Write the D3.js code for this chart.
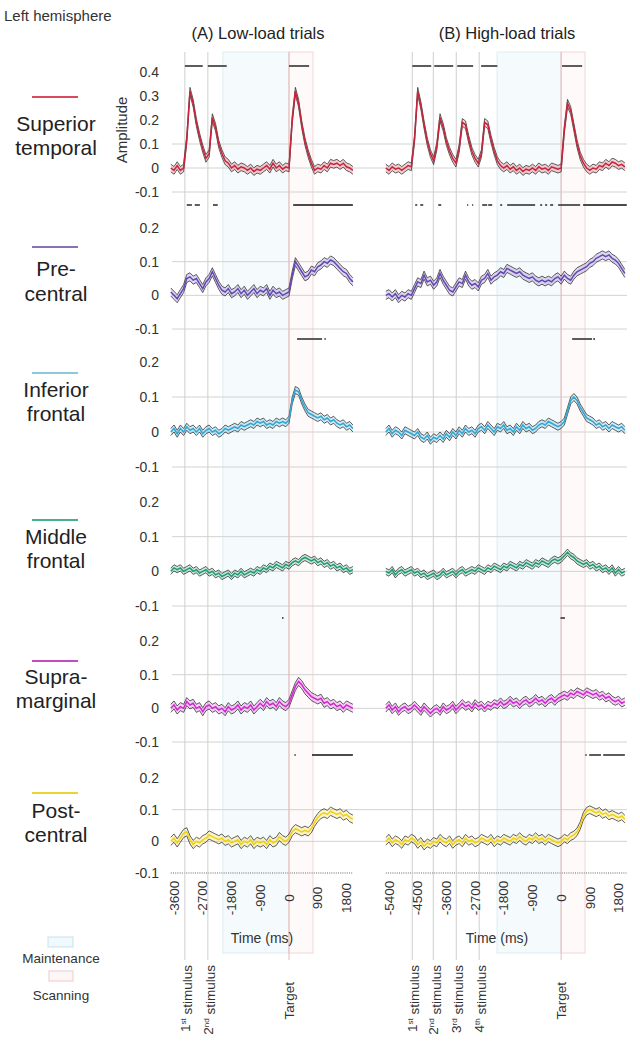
<!DOCTYPE html>
<html><head><meta charset="utf-8">
<script src="https://cdn.jsdelivr.net/npm/d3@7"></script>
<style>body{margin:0;background:#fff;} svg{display:block;font-family:"Liberation Sans",Arial,sans-serif;}</style>
</head><body><svg id="c" width="640" height="1050"></svg>
<script>
// ---------- data ----------
const regionNames = [["Superior","temporal"],["Pre-","central"],["Inferior","frontal"],["Middle","frontal"],["Supra-","marginal"],["Post-","central"]];
const regionColors = ["#c8243a","#6446b4","#30a6d4","#1d9a6e","#d028d0","#f0d010"];
const regionKeyColors = ["#d94a5c","#8b70b3","#8cc8da","#45b08e","#c24cc4","#e6d634"];
const yTicksTop = [0.4,0.3,0.2,0.1,0,-0.1];
const yTicksRow = [0.2,0.1,0,-0.1];
const gridVals = [0.1,0,-0.1];
const xTicksA = [-3600,-2700,-1800,-900,0,900,1800];
const xTicksB = [-5400,-4500,-3600,-2700,-1800,-900,0,900,1800];
const stimA = [-3260,-2540];
const stimB = [-4670,-4010,-3290,-2570];
const stimOrd = ["st","nd","rd","th"];
const maintA = [-2070,0], maintB = [-2010,0];
const scanA = [0,750], scanB = [0,750];
const seA = [0.016,0.012,0.01,0.009,0.012,0.013];
const seB = [0.016,0.012,0.01,0.009,0.011,0.012];

const supTempA = [0.00,-0.01,0.01,-0.01,0.00,0.12,0.32,0.27,0.19,0.13,
 0.08,0.04,0.06,0.21,0.17,0.10,0.06,0.03,0.02,0.00,
 0.01,-0.005,0.005,0.00,-0.01,0.00,-0.015,-0.005,-0.01,0.00,
 0.01,-0.005,0.02,0.00,0.01,-0.005,0.005,0.00,0.20,0.32,
 0.27,0.18,0.11,0.06,0.02,-0.01,0.00,-0.005,0.01,0.00,
 0.02,0.015,0.02,0.01,0.02,0.005,0.00,-0.01];
const supTempB = [0.00,-0.01,0.005,-0.005,0.00,-0.01,0.00,0.01,0.005,0.12,
 0.32,0.26,0.18,0.11,0.06,0.03,0.09,0.21,0.17,0.11,
 0.07,0.04,0.02,0.08,0.19,0.18,0.12,0.07,0.04,0.02,
 0.06,0.19,0.18,0.12,0.07,0.03,0.01,0.00,0.01,-0.005,
 0.005,-0.01,0.00,-0.015,-0.005,-0.01,0.00,-0.01,0.005,-0.005,
 0.00,-0.01,0.005,0.00,-0.005,0.00,0.16,0.27,0.24,0.17,
 0.10,0.05,0.02,0.00,-0.01,0.00,-0.005,0.01,0.005,0.02,
 0.01,0.025,0.02,0.01,0.015,0.005];
const preCentA = [0.01,0.00,-0.01,0.005,0.02,0.05,0.055,0.045,0.05,0.035,
 0.02,0.04,0.05,0.07,0.05,0.03,0.015,0.01,0.02,0.005,
 0.01,0.02,0.005,0.015,0.00,0.01,0.02,0.005,0.015,0.01,
 0.02,0.00,0.015,0.005,0.01,0.00,0.005,0.01,0.06,0.10,
 0.085,0.07,0.055,0.06,0.075,0.07,0.085,0.09,0.10,0.095,
 0.105,0.10,0.09,0.08,0.07,0.065,0.05,0.04];
const preCentB = [0.00,0.005,-0.005,0.005,-0.01,0.00,-0.005,0.005,0.00,0.02,
 0.04,0.035,0.06,0.04,0.045,0.03,0.04,0.065,0.045,0.03,
 0.015,0.01,0.025,0.04,0.035,0.06,0.04,0.03,0.035,0.025,
 0.045,0.05,0.065,0.045,0.055,0.06,0.07,0.065,0.08,0.075,
 0.07,0.065,0.07,0.06,0.055,0.05,0.055,0.045,0.04,0.045,
 0.04,0.045,0.04,0.05,0.055,0.045,0.06,0.05,0.045,0.06,
 0.07,0.075,0.08,0.085,0.095,0.10,0.11,0.115,0.12,0.115,
 0.12,0.11,0.105,0.095,0.08,0.065];
const infFrontA = [0.00,0.01,-0.005,0.01,0.00,0.015,0.005,0.01,0.00,0.01,
 -0.005,0.005,0.01,0.00,0.005,-0.005,0.00,0.01,0.005,0.01,
 0.015,0.01,0.02,0.015,0.02,0.025,0.02,0.03,0.025,0.03,
 0.02,0.025,0.02,0.03,0.025,0.03,0.025,0.035,0.09,0.12,
 0.115,0.09,0.07,0.055,0.05,0.045,0.04,0.045,0.035,0.04,
 0.03,0.035,0.025,0.02,0.025,0.015,0.02,0.01];
const infFrontB = [0.00,0.01,-0.005,0.005,0.00,-0.01,0.005,0.00,-0.005,-0.01,
 0.00,-0.015,-0.02,-0.01,-0.025,-0.015,-0.02,-0.01,-0.02,-0.005,
 -0.015,0.00,-0.01,0.005,-0.005,0.01,0.00,0.005,-0.005,0.01,
 0.015,0.005,0.02,0.01,0.00,0.015,0.01,0.02,0.005,0.01,
 0.00,0.015,0.005,0.02,0.01,0.015,0.005,0.01,0.02,0.025,
 0.02,0.03,0.025,0.02,0.015,0.02,0.03,0.06,0.09,0.10,
 0.09,0.07,0.055,0.04,0.035,0.03,0.02,0.025,0.015,0.02,
 0.01,0.02,0.015,0.01,0.015,0.005];
const midFrontA = [0.00,0.01,0.005,0.01,0.00,0.005,0.01,0.00,0.005,-0.005,
 0.00,0.005,-0.005,0.00,-0.01,-0.005,-0.015,-0.01,-0.005,-0.015,
 -0.005,-0.01,0.00,-0.01,-0.005,0.00,-0.005,0.005,0.00,0.01,
 0.005,0.015,0.01,0.02,0.015,0.01,0.02,0.015,0.025,0.03,
 0.025,0.035,0.04,0.035,0.03,0.035,0.025,0.03,0.02,0.025,
 0.015,0.02,0.01,0.015,0.005,0.01,0.00,0.005];
const midFrontB = [0.00,-0.005,0.005,-0.01,0.00,0.005,-0.005,0.00,0.005,-0.005,
 0.00,-0.01,-0.005,-0.015,-0.01,-0.005,-0.015,-0.01,0.00,-0.01,
 -0.005,0.00,-0.01,0.00,0.005,-0.005,0.00,0.005,0.00,0.01,
 0.005,0.00,0.01,0.005,0.015,0.01,0.005,0.015,0.01,0.02,
 0.015,0.01,0.02,0.015,0.025,0.02,0.015,0.025,0.02,0.03,
 0.025,0.02,0.03,0.035,0.03,0.035,0.045,0.055,0.045,0.04,
 0.03,0.025,0.02,0.025,0.015,0.02,0.01,0.015,0.005,0.01,
 0.00,0.01,-0.005,0.005,-0.005,0.00];
const supraMargA = [0.00,0.01,-0.005,0.005,0.00,0.02,0.01,0.015,0.00,0.005,
 -0.01,0.005,0.01,0.00,0.005,-0.005,0.00,-0.01,0.005,-0.005,
 0.00,0.01,-0.005,0.005,0.00,0.01,-0.005,0.005,0.015,0.005,
 0.02,0.01,0.015,0.005,0.02,0.01,0.005,0.015,0.04,0.065,
 0.08,0.07,0.055,0.045,0.035,0.03,0.025,0.03,0.015,0.02,
 0.01,0.015,0.005,0.01,0.00,0.01,0.005,0.00];
const supraMargB = [0.00,0.01,-0.005,0.005,-0.01,0.00,0.005,-0.005,0.00,0.01,
 0.00,-0.01,0.005,-0.005,-0.015,-0.005,0.00,-0.01,0.005,-0.005,
 0.00,0.01,-0.005,0.005,0.015,0.005,0.01,0.00,0.015,0.005,
 0.01,0.00,0.01,0.005,0.015,0.01,0.02,0.01,0.015,0.025,
 0.015,0.02,0.01,0.02,0.025,0.015,0.02,0.03,0.02,0.025,
 0.015,0.025,0.03,0.02,0.03,0.035,0.04,0.035,0.045,0.04,
 0.05,0.045,0.04,0.05,0.045,0.04,0.045,0.035,0.04,0.03,
 0.035,0.025,0.02,0.025,0.015,0.02];
const postCentA = [0.00,0.01,-0.005,0.01,0.025,0.03,0.005,-0.01,0.00,-0.005,
 0.005,0.01,0.02,0.015,0.01,0.005,0.01,0.00,0.005,-0.005,
 0.00,0.005,-0.01,0.00,-0.005,0.005,-0.01,0.00,-0.005,0.00,
 -0.01,0.005,-0.005,0.00,0.015,0.005,0.00,0.01,0.03,0.04,
 0.035,0.03,0.035,0.03,0.04,0.06,0.075,0.085,0.09,0.085,
 0.095,0.09,0.085,0.09,0.08,0.085,0.075,0.07];
const postCentB = [0.00,0.01,-0.005,0.005,0.00,-0.01,0.005,0.00,0.01,0.005,
 -0.01,0.00,-0.015,-0.005,-0.01,0.00,-0.005,0.01,0.00,-0.005,
 0.005,-0.01,0.00,0.005,-0.005,0.01,0.00,0.005,-0.005,0.00,
 0.01,0.005,0.00,0.01,-0.005,0.005,0.00,0.01,0.005,0.00,
 0.01,0.005,0.015,0.005,0.00,0.01,0.005,0.015,0.005,0.01,
 0.00,0.01,0.005,0.00,-0.005,0.00,0.01,0.005,0.015,0.02,
 0.03,0.05,0.08,0.095,0.10,0.095,0.09,0.095,0.085,0.09,
 0.08,0.085,0.08,0.075,0.08,0.07];

const seriesA = [supTempA, preCentA, infFrontA, midFrontA, supraMargA, postCentA];
const seriesB = [supTempB, preCentB, infFrontB, midFrontB, supraMargB, postCentB];

// significance segments [start, end] in ms
const sigA = [
 [[-3260,-2700],[-2540,-1950],[0,630]],
 [[-3200,-3040],[-2950,-2790],[-2380,-2230],[130,2000]],
 [[250,1035],[1110,1150]],
 [],
 [[-220,-170]],
 [[170,210],[720,2000]]
];
const sigB = [
 [[-4670,-4075],[-3980,-3385],[-3260,-2760],[-2510,-2000],[30,660]],
 [[-4577,-4514],[-4420,-4326],[-3856,-3762],[-2947,-2915],[-2790,-2759],[-2476,-2320],[-2288,-2163],[-1912,-1850],[-1693,-815],[-658,-596],[-502,-439],[-345,-251],[-94,596],[690,2060]],
 [[345,970],[1010,1060]],
 [],
 [[-20,120]],
 [[760,800],[880,1250],[1320,2000]]
];

// ---------- layout ----------
const svg = d3.select("#c");
const tA = d3.range(-3700, 2001, 100);
const tB = d3.range(-5500, 2001, 100);
const xA = d3.scaleLinear().domain([-3600,1800]).range([174,346.5]);
const xB = d3.scaleLinear().domain([-5400,1800]).range([389,618.5]);
const rowDomains = [[-0.1,0.4],[-0.1,0.2],[-0.1,0.2],[-0.1,0.2],[-0.1,0.2],[-0.1,0.2]];
const rowRanges = [[192,72],[329,228],[467,362],[606,502],[742,641],[873,778]];
const yS = rowDomains.map((d,i)=>d3.scaleLinear().domain(d).range(rowRanges[i]));
const regTop = 52, regBot = 953;
const textCol = "#333";

// regions
function region(x, span, fill, stroke){
  svg.append("rect").attr("x", x(span[0])).attr("y", regTop)
    .attr("width", x(span[1]) - x(span[0])).attr("height", regBot - regTop)
    .attr("fill", fill).attr("stroke", stroke).attr("stroke-width", 1);
}
region(xA, maintA, "#f5fafc", "#dcedf3");
region(xB, maintB, "#f5fafc", "#dcedf3");
region(xA, scanA, "#fefafa", "#f3d6d6");
region(xB, scanB, "#fefafa", "#f3d6d6");

// horizontal gridlines
yS.forEach((y,i)=>{
  gridVals.forEach(v=>{
    if (i === 5 && v === -0.1) return;
    svg.append("line").attr("x1",172).attr("x2",627).attr("y1",y(v)).attr("y2",y(v))
      .attr("stroke","#d2d2d2").attr("stroke-width",1);
  });
});
// bottom dotted axes
[[xA,-3700,2000],[xB,-5500,2050]].forEach(([x,a,b])=>{
  svg.append("line").attr("x1",x(a)).attr("x2",x(b)).attr("y1",yS[5](-0.1)).attr("y2",yS[5](-0.1))
    .attr("stroke","#999").attr("stroke-width",1.5).attr("stroke-dasharray","1,1.2");
});
// stimulus / target vertical lines
stimA.forEach(s=>svg.append("line").attr("x1",xA(s)).attr("x2",xA(s)).attr("y1",regTop).attr("y2",960).attr("stroke","#cfcfcf"));
stimB.forEach(s=>svg.append("line").attr("x1",xB(s)).attr("x2",xB(s)).attr("y1",regTop).attr("y2",960).attr("stroke","#cfcfcf"));
[xA,xB].forEach(x=>svg.append("line").attr("x1",x(0)).attr("x2",x(0)).attr("y1",regTop).attr("y2",960).attr("stroke","#e4bcbc"));

// traces
function trace(x, t, vals, se, y, color){
  const pts = vals.map((v,i)=>({t:t[i], v:v}));
  svg.append("path").datum(pts)
    .attr("d", d3.area().x(d=>x(d.t)).y0(d=>y(d.v-se)).y1(d=>y(d.v+se)))
    .attr("fill", color).attr("fill-opacity", 0.22);
  [se,-se].forEach(o=>{
    svg.append("path").datum(pts)
      .attr("d", d3.line().x(d=>x(d.t)).y(d=>y(d.v+o)))
      .attr("fill","none").attr("stroke","#2e2e2e").attr("stroke-width",0.9).attr("stroke-opacity",0.85);
  });
  svg.append("path").datum(pts)
    .attr("d", d3.line().x(d=>x(d.t)).y(d=>y(d.v)))
    .attr("fill","none").attr("stroke",color).attr("stroke-width",1.5);
}
for (let i=0;i<6;i++){
  trace(xA, tA, seriesA[i], seA[i], yS[i], regionColors[i]);
  trace(xB, tB, seriesB[i], seB[i], yS[i], regionColors[i]);
}

// significance bars
function sigY(i){ return i===0 ? 66 : yS[i](0.2) - 23; }
[[xA,sigA],[xB,sigB]].forEach(([x,sig])=>{
  sig.forEach((segs,i)=>{
    segs.forEach(s=>{
      svg.append("line").attr("x1",x(s[0])).attr("x2",x(s[1])).attr("y1",sigY(i)).attr("y2",sigY(i))
        .attr("stroke","#4a4a4a").attr("stroke-width",1.8);
    });
  });
});

// y tick labels (left column only)
yS.forEach((y,i)=>{
  (i===0 ? yTicksTop : yTicksRow).forEach(v=>{
    svg.append("text").attr("x",159).attr("y",y(v)).attr("dy","0.35em")
      .attr("text-anchor","end").attr("font-size",14).attr("fill",textCol)
      .text(v===0 ? "0" : d3.format(".1f")(v).replace("−","-"));
  });
});

// region labels
const labelY = [[97,124,148],[247,269,294],[373,390,414],[520,537,561],[661,677,701],[793,811,835]];
regionNames.forEach((nm,i)=>{
  const [ly,t1,t2] = labelY[i];
  svg.append("line").attr("x1",32).attr("x2",78).attr("y1",ly).attr("y2",ly)
    .attr("stroke",regionKeyColors[i]).attr("stroke-width",2);
  [[nm[0],t1],[nm[1],t2]].forEach(([s,yy])=>{
    svg.append("text").attr("x",56).attr("y",yy).attr("dy","0.35em").attr("text-anchor","middle")
      .attr("font-size",21).attr("fill","#222").text(s);
  });
});

// Amplitude label
svg.append("text").attr("transform","translate(122,130) rotate(-90)").attr("dy","0.35em").attr("text-anchor","middle")
  .attr("font-size",15).attr("fill",textCol).text("Amplitude");

// headers
svg.append("text").attr("x",4).attr("y",16).attr("dy","0.35em").attr("font-size",15).attr("fill",textCol).text("Left hemisphere");
svg.append("text").attr("x",258).attr("y",33).attr("dy","0.35em").attr("text-anchor","middle").attr("font-size",16.5).attr("fill","#222").text("(A) Low-load trials");
svg.append("text").attr("x",507).attr("y",33).attr("dy","0.35em").attr("text-anchor","middle").attr("font-size",16.5).attr("fill","#222").text("(B) High-load trials");

// x tick labels
[[xA,xTicksA],[xB,xTicksB]].forEach(([x,ticks])=>{
  ticks.forEach(v=>{
    svg.append("text").attr("transform",`translate(${x(v)},898) rotate(-90)`)
      .attr("text-anchor","middle").attr("dy","0.35em").attr("font-size",13.5).attr("fill",textCol)
      .text(String(v));
  });
});
svg.append("text").attr("x",262).attr("y",938).attr("dy","0.35em").attr("text-anchor","middle").attr("font-size",14).attr("fill",textCol).text("Time (ms)");
svg.append("text").attr("x",497).attr("y",938).attr("dy","0.35em").attr("text-anchor","middle").attr("font-size",14).attr("fill",textCol).text("Time (ms)");

// stimulus labels
function stimLabel(x, s, k){
  const t = svg.append("text").attr("transform",`translate(${x(s)},965) rotate(-90)`)
    .attr("text-anchor","end").attr("dy","0.35em").attr("font-size",13.5).attr("fill",textCol);
  t.append("tspan").text(String(k+1));
  t.append("tspan").attr("font-size",8).attr("dy","-0.45em").text(stimOrd[k]);
  t.append("tspan").attr("dy","0.45em").text(" stimulus");
}
stimA.forEach((s,k)=>stimLabel(xA,s,k));
stimB.forEach((s,k)=>stimLabel(xB,s,k));
[xA,xB].forEach(x=>{
  svg.append("text").attr("transform",`translate(${x(0)},982) rotate(-90)`)
    .attr("text-anchor","end").attr("dy","0.35em").attr("font-size",13.5).attr("fill",textCol).text("Target");
});

// legend
svg.append("rect").attr("x",48).attr("y",937).attr("width",25).attr("height",10).attr("fill","#f2f9fc").attr("stroke","#c4e3ef");
svg.append("text").attr("x",61).attr("y",958).attr("dy","0.35em").attr("text-anchor","middle").attr("font-size",13.5).attr("fill",textCol).text("Maintenance");
svg.append("rect").attr("x",49).attr("y",971).attr("width",24).attr("height",10).attr("fill","#fdf6f6").attr("stroke","#f0caca");
svg.append("text").attr("x",61).attr("y",995).attr("dy","0.35em").attr("text-anchor","middle").attr("font-size",13.5).attr("fill",textCol).text("Scanning");
</script></body></html>
